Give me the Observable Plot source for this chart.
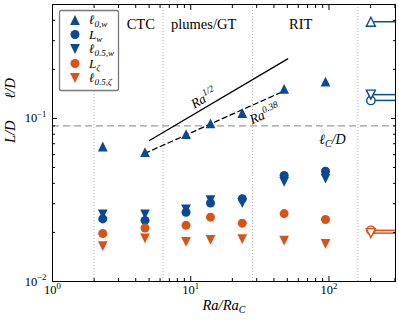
<!DOCTYPE html>
<html>
<head>
<meta charset="utf-8">
<script src="https://cdn.jsdelivr.net/npm/d3@7"></script>
<script src="https://cdn.jsdelivr.net/npm/@observablehq/plot@0.6"></script>
<style>
  html, body { margin: 0; padding: 0; background: #fff; }
  #chart { width: 399px; height: 322px; position: relative; }
  #chart svg { display: block; }
</style>
</head>
<body>
<div id="chart"></div>
<script>
// ---------------- data ----------------
const raRatio   = [2.31, 4.67, 9.25, 13.9, 23.6, 47.4, 94.4];
const ell0w     = [0.0673, 0.0621, 0.0801, 0.0932, 0.108, 0.152, 0.168];
const Lw        = [0.0242, 0.0237, 0.0266, 0.0303, 0.0322, 0.0447, 0.0475];
const ell05w    = [0.0258, 0.0258, 0.0277, 0.0316, 0.0303, 0.0408, 0.0428];
const Lzeta     = [0.0197, 0.0213, 0.0221, 0.0248, 0.0228, 0.0261, 0.0240];
const ell05zeta = [0.0165, 0.0184, 0.0175, 0.0180, 0.0182, 0.0178, 0.0170];

// reference (open) markers with horizontal lines
const refRa = 201;
const refValues = [0.392, 0.129, 0.140, 0.0206, 0.0198]; // ell0w, Lw, ell05w, Lzeta, ell05zeta

const regimeBounds = [2, 6.3, 28, 162];
const regimeNames  = ["CTC", "plumes/GT", "RIT"];
const regimeLabelX = [4.35, 12.4, 62.4];

const ellC = 0.09;
const ellCLabel = "ℓ_{C}/D";
const ellCLabelX = 106;

const fitHalfRa = [5.03, 50.3];
const fitHalfVal = [0.0733, 0.2318];
const fitHalfLabel = "Ra^{1/2}";
const fitHalfLabelPos = [12.4, 0.133];
const fit038Ra = [4.65, 46.5];
const fit038Val = [0.061, 0.1464];
const fit038Label = "Ra^{0.38}";
const fit038LabelPos = [34.3, 0.1063];

const seriesLabels = ["ℓ_{0,w}", "L_{w}", "ℓ_{0.5,w}", "L_{ζ}", "ℓ_{0.5,ζ}"];
const seriesValues = [ell0w, Lw, ell05w, Lzeta, ell05zeta];

const xTickValues = [1, 10, 100];
const xTickLabels = ["10^{0}", "10^{1}", "10^{2}"];
const yTickValues = [0.01, 0.1];
const yTickLabels = ["10^{−2}", "10^{−1}"];
const xMinorTicks = [2,3,4,5,6,7,8,9,20,30,40,50,60,70,80,90,200,300];
const yMinorTicks = [0.02,0.03,0.04,0.05,0.06,0.07,0.08,0.09,0.2,0.3,0.4];

const xLabel = "Ra/Ra_{C}";
const yLabel = "L/D\u2003\u2002ℓ/D";

// ---------------- styling ----------------
const blue = "#0b4a93", orange = "#d95319";
const triUp = {draw(ctx, size) { const s = Math.sqrt(2 * size) / 2; ctx.moveTo(0, -s); ctx.lineTo(s, s); ctx.lineTo(-s, s); ctx.closePath(); }};
const triDown = {draw(ctx, size) { const s = Math.sqrt(2 * size) / 2; ctx.moveTo(0, s); ctx.lineTo(s, -s); ctx.lineTo(-s, -s); ctx.closePath(); }};
const seriesColors = [blue, blue, blue, orange, orange];
const seriesSymbols = [triUp, "circle", triDown, "circle", triDown];
const seriesR = [3.9, 4.5, 3.9, 4.5, 3.9];

const xDomain = [1, 303], yDomain = [0.01, 0.5];

const pointMarks = seriesValues.map((vals, k) =>
  Plot.dot(raRatio.map((x, i) => ({x, y: vals[i]})), {
    x: "x", y: "y", symbol: seriesSymbols[k], r: seriesR[k], fill: seriesColors[k], stroke: "none"
  }));

const refRows = refValues.map((v, k) => ({x: refRa, y: v, k}));
const refLineMarks = refRows.map(d =>
  Plot.ruleY([d], {y: "y", x1: "x", x2: () => xDomain[1], stroke: seriesColors[d.k], strokeWidth: 1.5}));
const refDotMarks = refRows.map(d =>
  Plot.dot([d], {x: "x", y: "y", symbol: seriesSymbols[d.k], r: seriesR[d.k] - 0.3, fill: "white", stroke: seriesColors[d.k], strokeWidth: 1.4}));

const chart = Plot.plot({
  width: 399, height: 322,
  marginLeft: 52, marginRight: 4, marginTop: 4, marginBottom: 41,
  x: {type: "log", domain: xDomain, label: null},
  y: {type: "log", domain: yDomain, label: null},
  style: {fontFamily: "'Liberation Serif', 'DejaVu Serif', serif", background: "white", color: "black"},
  marks: [
    Plot.ruleX(regimeBounds, {stroke: "#b4b4b4", strokeDasharray: "1,2", strokeWidth: 1}),
    Plot.ruleY([ellC], {stroke: "#9c9c9c", strokeDasharray: "7,4", strokeWidth: 1.2}),
    Plot.line(fitHalfRa.map((x, i) => ({x, y: fitHalfVal[i]})), {x: "x", y: "y", stroke: "black", strokeWidth: 1.3}),
    Plot.line(fit038Ra.map((x, i) => ({x, y: fit038Val[i]})), {x: "x", y: "y", stroke: "black", strokeWidth: 1.3, strokeDasharray: "5,3.5"}),
    ...refLineMarks,
    ...refDotMarks,
    ...pointMarks,
    Plot.text(regimeNames.map((t, i) => ({t, x: regimeLabelX[i]})), {x: "x", text: "t", frameAnchor: "top", dy: 14, fontSize: 14.5}),
    Plot.text([{t: ellCLabel, x: ellCLabelX, y: ellC}], {x: "x", y: "y", text: "t", dy: 14, fontSize: 14, fontStyle: "italic"}),
    Plot.text([{t: fitHalfLabel, x: fitHalfLabelPos[0], y: fitHalfLabelPos[1]}], {x: "x", y: "y", text: "t", rotate: -30.5, fontSize: 13.5, fontStyle: "italic"}),
    Plot.text([{t: fit038Label, x: fit038LabelPos[0], y: fit038LabelPos[1]}], {x: "x", y: "y", text: "t", rotate: -23.4, fontSize: 13.5, fontStyle: "italic"}),
    // axes
    Plot.axisX({ticks: xTickValues, tickSize: 0, tickPadding: 4, fontSize: 12.5, label: null, tickFormat: d => xTickLabels[xTickValues.indexOf(d)]}),
    Plot.axisY({ticks: yTickValues, tickSize: 0, tickPadding: 6, fontSize: 12.5, label: null, tickFormat: d => yTickLabels[yTickValues.indexOf(d)]}),
    Plot.axisX({ticks: xTickValues, tickSize: -5, label: null, tickFormat: () => ""}),
    Plot.axisX({ticks: xMinorTicks, tickSize: -3, label: null, tickFormat: () => ""}),
    Plot.axisX({anchor: "top", ticks: xTickValues, tickSize: -5, label: null, tickFormat: () => ""}),
    Plot.axisX({anchor: "top", ticks: xMinorTicks, tickSize: -3, label: null, tickFormat: () => ""}),
    Plot.axisY({ticks: yTickValues, tickSize: -5, label: null, tickFormat: () => ""}),
    Plot.axisY({ticks: yMinorTicks, tickSize: -3, label: null, tickFormat: () => ""}),
    Plot.axisY({anchor: "right", ticks: yTickValues, tickSize: -5, label: null, tickFormat: () => ""}),
    Plot.axisY({anchor: "right", ticks: yMinorTicks, tickSize: -3, label: null, tickFormat: () => ""}),
    Plot.text([xLabel], {frameAnchor: "bottom", dy: 28, fontSize: 14.5, fontStyle: "italic"}),
    Plot.text([yLabel], {frameAnchor: "left", dx: -42, rotate: -90, fontSize: 14.5, fontStyle: "italic"}),
    Plot.frame({stroke: "black", strokeWidth: 1})
  ]
});

document.getElementById("chart").append(chart);

// ---------------- legend ----------------
const svg = d3.select(chart);
const lg = svg.append("g").attr("class", "legend").attr("text-anchor", "start");
lg.append("rect").attr("x", 59.5).attr("y", 10.5).attr("width", 59).attr("height", 80)
  .attr("rx", 2).attr("fill", "white").attr("stroke", "#7a7a7a").attr("stroke-width", 1.3);
seriesLabels.forEach((lab, k) => {
  const yy = 20 + 14.5 * k;
  const sym = typeof seriesSymbols[k] === "string" ? d3.symbolCircle : seriesSymbols[k];
  lg.append("path").attr("transform", `translate(75,${yy})`)
    .attr("d", d3.symbol(sym, Math.PI * seriesR[k] * seriesR[k])()).attr("fill", seriesColors[k]);
  lg.append("text").attr("x", 89).attr("y", yy + 4.4).attr("text-anchor", "start")
    .attr("font-size", 13).attr("font-style", "italic").attr("fill", "black").text(lab);
});

// ---------------- rich text (sub/superscripts) ----------------
const NS = "http://www.w3.org/2000/svg";
function richify(el) {
  if (el.children.length) return;
  const s = el.textContent;
  if (!/[_^]/.test(s)) return;
  const base = parseFloat(getComputedStyle(el).fontSize) || 12;
  const parts = [];
  let i = 0, buf = "";
  while (i < s.length) {
    const c = s[i];
    if (c === "_" || c === "^") {
      if (buf) { parts.push({t: buf, k: 0}); buf = ""; }
      let content;
      if (s[i + 1] === "{") { const j = s.indexOf("}", i + 2); content = s.slice(i + 2, j); i = j + 1; }
      else { content = s[i + 1]; i += 2; }
      parts.push({t: content, k: c === "_" ? 1 : -1});
    } else { buf += c; i++; }
  }
  if (buf) parts.push({t: buf, k: 0});
  el.textContent = "";
  let cur = 0;
  for (const p of parts) {
    const off = p.k === 1 ? 0.22 * base : p.k === -1 ? -0.42 * base : 0;
    const ts = document.createElementNS(NS, "tspan");
    ts.setAttribute("dy", (off - cur).toFixed(2));
    cur = off;
    if (p.k) ts.setAttribute("font-size", (0.7 * base).toFixed(2));
    ts.textContent = p.t;
    el.appendChild(ts);
  }
}
chart.querySelectorAll("text").forEach(richify);
</script>
</body>
</html>
